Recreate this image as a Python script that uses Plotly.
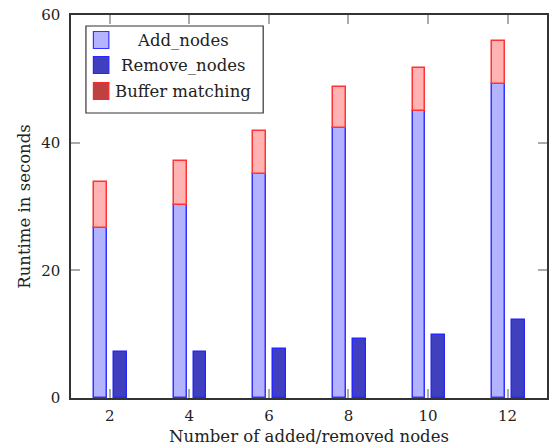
import plotly.graph_objects as go

nodes = [2, 4, 6, 8, 10, 12]
add_nodes = [26.6, 30.2, 35.1, 42.3, 45.0, 49.2]
buffer_matching = [7.2, 6.9, 6.7, 6.4, 6.7, 6.8]
remove_nodes = [7.15, 7.25, 7.7, 9.2, 9.85, 12.25]

W, H = 549, 446
L, R, T, B = 71, 0, 15, 48
FONT = "DejaVu Serif"
FS = 15
FT = 16.5

add_x = [n - 0.23 for n in nodes]
rem_x = [n + 0.27 for n in nodes]
BW = 0.32

fig = go.Figure()
fig.add_trace(go.Bar(x=add_x, y=add_nodes, width=BW, name="Add_nodes",
                     marker=dict(color="#b3b3ff", line=dict(color="#3333ff", width=1.5)),
                     showlegend=False))
fig.add_trace(go.Bar(x=add_x, y=buffer_matching, base=add_nodes, width=BW, name="Buffer matching",
                     marker=dict(color="#ffb3b3", line=dict(color="#ff3333", width=1.5)),
                     showlegend=False))
fig.add_trace(go.Bar(x=rem_x, y=remove_nodes, width=BW, name="Remove_nodes",
                     marker=dict(color="#4040bf", line=dict(color="#2626ff", width=1.5)),
                     showlegend=False))

fig.update_layout(
    width=W, height=H, margin=dict(l=L, r=R, t=T, b=B),
    plot_bgcolor="white", paper_bgcolor="white",
    barmode="overlay", bargap=0,
    font=dict(family=FONT, size=FS, color="#222"),
    xaxis=dict(range=[1.025, 12.99], tickvals=nodes, ticks="inside", ticklen=9,
               tickcolor="#aaa", tickwidth=1.5, showline=True, linecolor="#333", linewidth=1.5,
               mirror="ticks", showgrid=False, zeroline=False,
               tickfont=dict(size=FS), ticklabelstandoff=3,
               title=dict(text="Number of added/removed nodes", standoff=8,
                          font=dict(size=FT))),
    yaxis=dict(range=[0, 60], tickvals=[0, 20, 40, 60], ticks="inside", ticklen=9,
               tickcolor="#aaa", tickwidth=1.5, showline=True, linecolor="#333", linewidth=1.5,
               mirror="ticks", showgrid=False, zeroline=False,
               tickfont=dict(size=FS), ticklabelstandoff=6,
               title=dict(text="Runtime in seconds", standoff=6, font=dict(size=FT))),
)

def px(xp):
    return (xp - L) / (W - L - R)

def py(yp):
    return (H - B - yp) / (H - T - B)

# legend box
fig.add_shape(type="rect", xref="paper", yref="paper",
              x0=px(86), x1=px(264), y0=py(113), y1=py(26),
              line=dict(color="#333", width=1.2), fillcolor="white", layer="above")
legend_items = [("Add_nodes", "#b3b3ff", "#3333ff", 40),
                ("Remove_nodes", "#4040bf", "#2626ff", 65),
                ("Buffer matching", "#bf4040", "#ff2626", 91)]
for label, fill, edge, cy in legend_items:
    fig.add_shape(type="rect", xref="paper", yref="paper",
                  x0=px(93.5), x1=px(109), y0=py(cy + 8.5), y1=py(cy - 8.5),
                  line=dict(color=edge, width=1.2), fillcolor=fill, layer="above")
    fig.add_annotation(xref="paper", yref="paper", x=px(183), y=py(cy),
                       text=label, showarrow=False, xanchor="center", yanchor="middle",
                       font=dict(family=FONT, size=FT, color="#222"))

fig.write_html("out.html")
